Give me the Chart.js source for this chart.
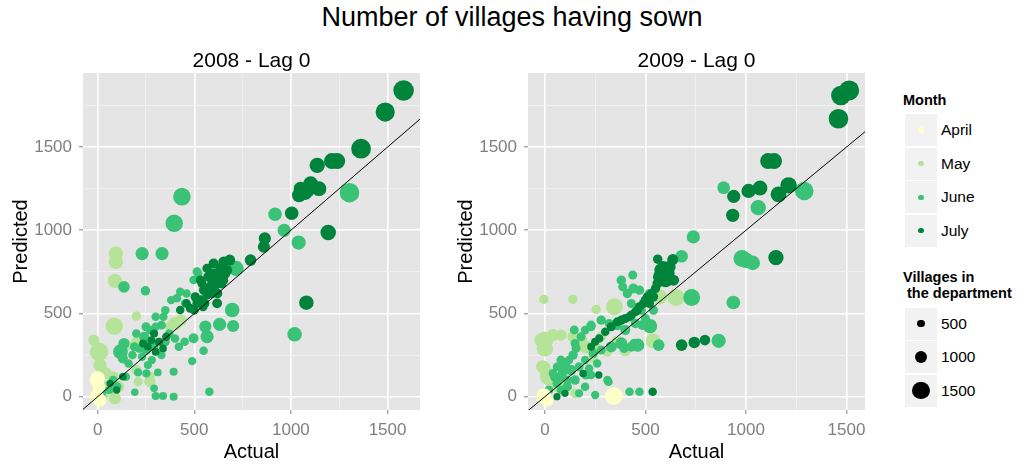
<!DOCTYPE html>
<html>
<head>
<meta charset="utf-8">
<script src="https://cdn.jsdelivr.net/npm/chart.js@4.4.1/dist/chart.umd.min.js"></script>
<style>
  body { margin: 0; width: 1024px; height: 473px; background: #fff; position: relative; overflow: hidden;
         font-family: "Liberation Sans", Arial, sans-serif; }
  #title { position: absolute; left: 0; top: 2px; width: 1024px; text-align: center; font-size: 27px; color: #000; }
  .panel { position: absolute; top: 40px; }
  .ltitle { position: absolute; left: 903px; font-weight: bold; font-size: 14.5px; line-height: 16px; white-space: pre; }
  .key { position: absolute; left: 905px; width: 32px; height: 32px; background: #f2f2f2; }
  .dot { position: absolute; border-radius: 50%; }
  .klabel { position: absolute; left: 941px; font-size: 15.5px; line-height: 18px; }
</style>
</head>
<body>
<div id="title">Number of villages having sown</div>
<canvas id="p2008" class="panel" width="431" height="430" style="left:0px"></canvas>
<canvas id="p2009" class="panel" width="431" height="430" style="left:445px"></canvas>
<div id="legend"></div>
<script>
// legend categories
const monthNames = ['April', 'May', 'June', 'July'];
const monthColors = ['#FFFFC8', '#B5E398', '#3AC377', '#00843B'];
const sizeBreaks = [500, 1000, 1500];
// grid breaks on both axes (labelled every 500)
const gridBreaks = [0, 250, 500, 750, 1000, 1250, 1500, 1750];

// each point: [actual, predicted, villages in the department]
const april2008 = [[0,110,1100],[5,60,1000],[-5,0,1100],[10,-20,1000],[-10,100,900]];
const may2008 = [[94,860,1100],[94,810,1100],[89,696,1100],[86,424,1400],[7,270,1500],[12,190,1000],[12,60,1200],
  [89,-10,900],[106,60,900],[200,484,640],[209,90,640],[270,90,800],[395,436,1000],[432,460,830],[410,445,900],
  [380,420,900],[200,330,700],[200,160,700],[80,120,800],[40,140,900],[270,120,700],[150,310,800],[-20,340,800],[30,20,900]];
const june2008 = [[1303,1226,1600],[436,1202,1420],[396,1042,1400],[918,1096,1040],[965,1000,1000],[1040,926,1100],
  [716,771,1200],[696,521,1130],[701,425,900],[631,435,1000],[557,421,900],[566,361,1000],[496,351,700],[1019,375,1120],
  [230,860,1000],[333,860,1000],[136,660,850],[247,636,650],
  [514,751,600],[496,701,560],[427,631,560],[410,591,560],[453,561,560],[460,620,560],[380,580,540],[520,740,560],[545,590,560],
  [548,276,560],[489,214,540],[578,30,560],[393,150,520],[393,0,520],[338,4,520],[300,4,520],[292,50,480],[311,146,480],
  [252,140,520],[209,146,540],[192,26,460],
  [200,380,560],[240,360,700],[270,330,560],[290,300,620],[250,280,650],[215,290,600],[330,250,540],[280,220,540],
  [260,190,520],[300,420,560],[330,430,600],[340,480,540],[370,380,540],[190,300,600],[270,400,580],
  [118,270,1150],[136,320,800],[130,230,700],[146,120,560],[100,60,600],[60,40,520],[20,20,620],[80,100,560],
  [450,330,560],[420,300,560],[350,330,600],[400,350,560],[230,240,540],[180,250,560],[160,200,560],[250,420,600],
  [350,520,560],[300,480,560]];
const july2008 = [[1583,1840,1690],[1488,1710,1560],[1363,1490,1620],[1212,1416,1250],[1240,1416,1250],[1136,1390,1200],
  [1042,1210,1080],[1085,1240,1120],[1102,1280,1150],[1145,1250,1160],[1050,1250,1060],[1075,1225,1090],[1110,1260,1100],
  [1004,1102,1030],[1193,986,1220],[865,952,900],[860,901,890],[791,821,850],[1080,565,1120],
  [683,821,800],[652,811,760],[635,771,700],[600,741,680],[566,771,640],[618,701,720],[583,661,680],[548,641,640],[531,701,600],
  [566,611,620],[618,561,680],[514,561,620],[479,531,600],[427,521,560],[600,800,700],[660,740,720],[640,680,700],
  [590,700,650],[555,560,600],[620,620,660],[570,720,620],
  [505,600,640],[540,680,620],[575,640,600],[605,660,640],[650,700,680],[625,740,700],[590,620,640],[545,540,600],
  [500,520,600],[460,560,580],[530,580,620],[670,760,720],
  [292,380,520],[278,340,500],[317,330,520],[338,290,480],[235,320,500],[355,360,540],[260,300,480],[300,270,500],
  [64,80,460],[98,40,450],[130,120,470]];

const april2009 = [[343,4,1450],[-5,4,1200],[10,-20,1000]];
const may2009 = [[346,540,1350],[652,596,1350],[570,600,1200],[-5,584,650],[139,584,650],[255,524,650],[538,336,1150],
  [0,340,1350],[0,290,1300],[40,370,900],[81,370,800],[140,360,800],[160,330,900],[200,300,1000],[250,290,850],
  [360,330,900],[310,270,700],[0,170,900],[20,110,1100],[10,140,1000],[60,60,800],[100,90,700],[150,20,650],
  [240,230,640],[280,360,700],[400,280,900],[-20,341,1000],[180,341,900],[-11,180,1000],[14,120,1200]];
const june2009 = [[889,1256,950],[1061,1136,1200],[1290,1236,1500],[738,960,1000],[680,844,940],[980,830,1350],
  [1000,820,1200],[1033,804,1150],[937,566,1050],[730,596,1350],[864,336,1100],[523,424,1100],[462,310,1000],
  [566,310,850],[421,30,560],[470,30,560],[316,90,560],[230,130,560],[250,10,540],
  [440,650,700],[380,700,650],[410,620,640],[470,640,640],[520,620,600],[430,560,600],[480,520,620],[500,470,600],
  [540,520,620],[450,440,640],[400,400,700],[360,430,700],[320,440,620],[280,460,640],[230,430,620],[200,400,560],
  [330,300,800],[380,320,900],[430,300,700],[280,280,600],[240,260,640],[180,360,600],[150,320,600],
  [100,200,700],[130,160,740],[80,120,700],[150,100,650],[200,60,560],[60,80,600],[40,140,560],[110,60,640],
  [170,20,520],[20,40,600],[120,220,560],[60,180,560],[200,220,560],
  [146,401,600],[229,421,640],[155,291,600],[328,300,700],[394,291,640],[444,321,620],[485,431,700],[80,220,600],
  [113,100,600],[311,100,560],[204,130,600],[80,40,560],[113,60,560],[437,731,600],[387,660,600],
  [50,120,700],[90,150,700],[140,250,640],[170,180,600],[220,170,560],[260,200,560]];
const july2009 = [[1513,1840,1650],[1472,1810,1600],[1460,1670,1600],[1110,1416,1250],[1140,1416,1250],[1212,1270,1300],
  [1162,1216,1250],[1070,1254,1150],[1013,1236,1100],[939,1204,1000],[934,1090,1000],[1149,836,1200],[680,310,850],
  [743,326,850],[796,340,750],[536,30,560],[268,130,450],
  [561,826,650],[636,824,800],[580,760,1100],[610,740,1100],[600,700,1100],[570,720,1000],[620,780,900],[590,780,850],[640,700,800],
  [300,390,560],[330,420,600],[360,450,600],[400,470,620],[430,490,620],[450,510,600],[470,540,620],[490,560,620],
  [510,600,640],[530,620,620],[550,650,640],[230,300,500],[250,330,520],[270,350,560],
  [380,460,620],[420,480,600],[460,520,620],[500,580,640],[520,560,620],[540,600,640],[560,680,700],
  [100,20,440],[60,0,440],[190,140,460]];

// point radius grows with the number of villages in the department
function radiusFor(v) {
  return 1.3 + 0.0053 * v;
}

Chart.defaults.font.family = '"Liberation Sans", Arial, sans-serif';

const panelBg = {
  id: 'panelBg',
  beforeDraw(chart) {
    const a = chart.chartArea;
    chart.ctx.save();
    chart.ctx.fillStyle = '#E5E5E5';
    chart.ctx.fillRect(a.left, a.top, a.right - a.left, a.bottom - a.top);
    chart.ctx.restore();
  }
};

function isMajor(ctx) {
  return ctx.tick && ctx.tick.value % 500 === 0;
}

function axisOptions(min, max, label, vertical) {
  return {
    type: 'linear',
    min: min,
    max: max,
    border: { display: false },
    grid: {
      color: ctx => isMajor(ctx) ? '#FFFFFF' : '#F3F3F3',
      lineWidth: ctx => isMajor(ctx) ? 1.6 : 0.8,
      tickColor: ctx => isMajor(ctx) ? '#7F7F7F' : 'rgba(0,0,0,0)',
      tickWidth: 1,
      tickLength: 4,
      drawTicks: true
    },
    ticks: {
      autoSkip: false,
      maxRotation: 0,
      color: '#7F7F7F',
      font: { size: 17 },
      padding: vertical ? 7 : 6,
      callback: v => (v % 500 === 0 ? String(v) : '')
    },
    title: {
      display: true,
      text: label,
      color: '#000',
      font: { size: 20 },
      padding: vertical ? { top: 9, bottom: 0 } : { top: 0, bottom: 6 }
    },
    afterBuildTicks(scale) {
      scale.ticks = gridBreaks.filter(b => b >= min && b <= max).map(b => ({ value: b }));
    },
    afterFit(scale) {
      if (vertical) scale.width = 83; else scale.height = 60;
      scale.paddingTop = 0; scale.paddingBottom = 0;
      scale.paddingLeft = 0; scale.paddingRight = 0;
    }
  };
}

function makePanel(canvasId, heading, groups, xMin, xMax) {
  const datasets = [{
    label: 'y = x',
    data: [{ x: -200, y: -200 }, { x: 2200, y: 2200 }],
    showLine: true,
    borderColor: '#000',
    borderWidth: 1,
    pointRadius: 0,
    clip: 0,
    order: 0
  }];
  // April on top, then July, June, May underneath
  const drawOrder = [1, 4, 3, 2];
  groups.forEach((rows, i) => {
    datasets.push({
      label: monthNames[i],
      data: rows.map(r => ({ x: r[0], y: r[1], v: r[2] })),
      backgroundColor: monthColors[i],
      borderWidth: 0,
      pointRadius: ctx => radiusFor(ctx.raw ? ctx.raw.v : 500),
      pointHoverRadius: ctx => radiusFor(ctx.raw ? ctx.raw.v : 500),
      clip: false,
      order: drawOrder[i]
    });
  });

  return new Chart(document.getElementById(canvasId), {
    type: 'scatter',
    data: { datasets },
    options: {
      responsive: false,
      animation: false,
      events: [],
      layout: { padding: { top: 0, right: 11, bottom: 0, left: 0 } },
      plugins: {
        legend: { display: false },
        tooltip: { enabled: false },
        title: {
          display: true,
          text: heading,
          color: '#000',
          fullSize: false,
          font: { size: 21, weight: 'normal', lineHeight: 1 },
          padding: { top: 11, bottom: 1 }
        }
      },
      scales: {
        x: axisOptions(xMin, xMax, 'Actual', false),
        y: axisOptions(-80, 1945, 'Predicted', true)
      }
    },
    plugins: [panelBg]
  });
}

makePanel('p2008', '2008 - Lag 0', [april2008, may2008, june2008, july2008], -76, 1668);
makePanel('p2009', '2009 - Lag 0', [april2009, may2009, june2009, july2009], -84, 1592);

// legend (two guides: colour by month, size by villages)
function buildLegend() {
  const box = document.getElementById('legend');
  const add = (cls, css, text) => {
    const el = document.createElement('div');
    el.className = cls;
    Object.assign(el.style, css);
    if (text !== undefined) el.textContent = text;
    box.appendChild(el);
    return el;
  };
  add('ltitle', { top: '92px' }, 'Month');
  monthNames.forEach((m, i) => {
    const top = 114 + i * 33.6;
    add('key', { top: top + 'px' });
    add('dot', { left: (921 - 2.6) + 'px', top: (top + 16 - 2.6) + 'px', width: '5.2px', height: '5.2px', background: monthColors[i] });
    add('klabel', { top: (top + 7) + 'px' }, m);
  });
  add('ltitle', { top: '269px' }, 'Villages in\n the department');
  sizeBreaks.forEach((s, i) => {
    const top = 307.5 + i * 33.5;
    const r = radiusFor(s) - 0.4;
    add('key', { top: top + 'px' });
    add('dot', { left: (921 - r) + 'px', top: (top + 16 - r) + 'px', width: (2 * r) + 'px', height: (2 * r) + 'px', background: '#000' });
    add('klabel', { top: (top + 7) + 'px' }, String(s));
  });
}
buildLegend();
</script>
</body>
</html>
